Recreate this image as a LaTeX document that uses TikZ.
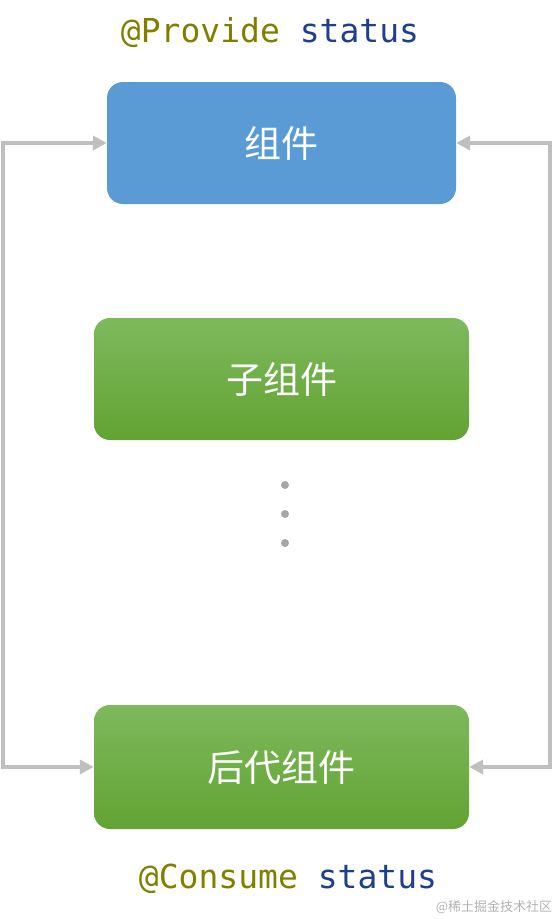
\documentclass[tikz,border=0pt]{standalone}
\usepackage{fontspec}
\setmainfont{Noto Sans CJK SC}
\setmonofont{DejaVu Sans Mono}
\usetikzlibrary{arrows.meta}
\definecolor{compblue}{HTML}{5B9BD5}
\definecolor{greentop}{HTML}{7EB95C}
\definecolor{greenbot}{HTML}{62A333}
\definecolor{linkgray}{HTML}{BFBFBF}
\definecolor{dotgray}{HTML}{A6A6A6}
\definecolor{decolive}{HTML}{7F7F00}
\definecolor{varblue}{HTML}{1F3F8C}
\begin{document}
\begin{tikzpicture}[x=1pt,y=-1pt]
        \useasboundingbox (0,0) rectangle (553,919);
        \begin{scope}[every node/.style={rounded corners=16pt,minimum height=122pt,inner sep=0pt,text=white,font=\fontsize{37}{37}\selectfont}]
          \node[fill=compblue,minimum width=349pt] (C) at (281.5,143) {组件};
          \node[top color=greentop,bottom color=greenbot,minimum width=375pt] (S) at (281.5,379) {子组件};
          \node[top color=greentop,bottom color=greenbot,minimum width=375pt,minimum height=124pt] (D) at (281.5,767) {后代组件};
        \end{scope}
        \begin{scope}[every node/.style={circle,fill=dotgray,minimum size=8pt,inner sep=0pt}]
          \node (d1) at (285,485) {};
          \node (d2) at (285,514) {};
          \node (d3) at (285,543) {};
        \end{scope}
        \coordinate (L) at (3,455);
        \coordinate (R) at (550,455);
        \begin{scope}[every path/.style={draw=linkgray,line width=4pt,{Triangle[length=14pt,width=14pt]}-{Triangle[length=14pt,width=14pt]}}]
          \path (C.west) -| (L) |- (D.west);
          \path (C.east) -| (R) |- (D.east);
        \end{scope}
        \begin{scope}[every node/.style={font=\ttfamily\fontsize{33}{33}\selectfont}]
          \node (P) at (270,33) {\textcolor{decolive}{@Provide} \textcolor{varblue}{status}};
          \node (U) at (288,879) {\textcolor{decolive}{@Consume} \textcolor{varblue}{status}};
        \end{scope}
        \node[text=black!30,inner sep=0pt,font=\fontsize{13}{13}\selectfont] (W) at (494,907) {@稀土掘金技术社区};
\end{tikzpicture}
\end{document}
